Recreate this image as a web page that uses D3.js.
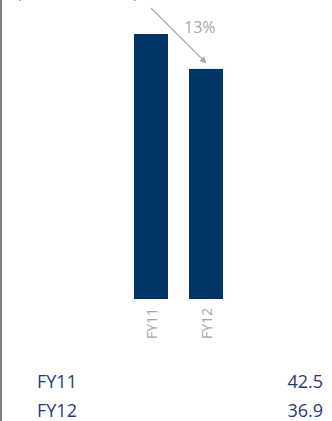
<!doctype html>
<html>
  <head>
    <script src="https://cdn.jsdelivr.net/npm/d3@7/dist/d3.min.js"></script>
    <style>
      body { margin: 0; background: #fff; }
      svg { display: block; font-family: "Open Sans", "Noto Sans", sans-serif; }
    </style>
  </head>
  <body>
    <div id="chart"></div>
    <script>
      // data
      var years = ["FY11", "FY12"];
      var values = [42.5, 36.9];
      var changeLabel = "13%";
      var unitLabel = "(in USD billion)";

      var width = 332, height = 421;

      var svg = d3.select("#chart")
        .append("svg")
        .attr("width", width)
        .attr("height", height);

      // left frame line
      svg.append("line")
        .attr("x1", 1).attr("x2", 1)
        .attr("y1", 0).attr("y2", height)
        .style("stroke", "#808080")
        .style("stroke-width", 2);

      // unit title, mostly cut off at top like the source
      svg.append("text")
        .attr("x", 16)
        .attr("y", -2)
        .style("font-size", "18px")
        .style("fill", "#6fa0d6")
        .text(unitLabel);

      // scales
      var x = d3.scaleBand()
        .domain(years)
        .range([134, 223])
        .paddingInner(0.382)
        .paddingOuter(0);

      var y = d3.scaleLinear()
        .domain([0, 42.5])
        .range([299, 34]);

      // bars
      svg.selectAll(".bar")
        .data(years)
        .enter()
        .append("rect")
        .attr("class", "bar")
        .attr("x", function(d) { return x(d); })
        .attr("width", x.bandwidth())
        .attr("y", function(d, i) { return y(values[i]); })
        .attr("height", function(d, i) { return y(0) - y(values[i]); })
        .style("fill", "#003366");

      // rotated category labels
      svg.selectAll(".xlab")
        .data(years)
        .enter()
        .append("text")
        .attr("class", "xlab")
        .attr("transform", function(d) {
          return "translate(" + (x(d) + x.bandwidth() / 2 + 6) + ",308) rotate(-90)";
        })
        .style("text-anchor", "end")
        .style("font-size", "14px")
        .style("fill", "#a6a6a6")
        .text(function(d) { return d; });

      // arrow showing change
      svg.append("defs").append("marker")
        .attr("id", "arrowhead")
        .attr("viewBox", "0 0 10 10")
        .attr("refX", 9).attr("refY", 5)
        .attr("markerWidth", 7).attr("markerHeight", 7)
        .attr("markerUnits", "userSpaceOnUse")
        .attr("orient", "auto")
        .append("path")
        .attr("d", "M0,0 L10,5 L0,10 Z")
        .style("fill", "#a6a6a6");

      var x12 = x("FY12") + x.bandwidth() / 2;
      svg.append("line")
        .attr("x1", 151).attr("y1", 8)
        .attr("x2", x12).attr("y2", y(values[1]) - 6)
        .style("stroke", "#a6a6a6")
        .style("stroke-width", 1.2)
        .attr("marker-end", "url(#arrowhead)");

      svg.append("text")
        .attr("x", 184)
        .attr("y", 33)
        .style("font-size", "16px")
        .style("fill", "#a6a6a6")
        .text(changeLabel);

      // value table at bottom
      var rows = svg.selectAll(".row")
        .data(years)
        .enter()
        .append("g")
        .attr("transform", function(d, i) { return "translate(0," + (388 + i * 29) + ")"; });

      rows.append("text")
        .attr("x", 37)
        .style("font-size", "18px")
        .style("fill", "#1f3d73")
        .text(function(d) { return d; });

      rows.append("text")
        .attr("x", 323)
        .style("text-anchor", "end")
        .style("font-size", "18px")
        .style("fill", "#1f3d73")
        .text(function(d, i) { return values[i].toFixed(1); });
    </script>
  </body>
</html>
